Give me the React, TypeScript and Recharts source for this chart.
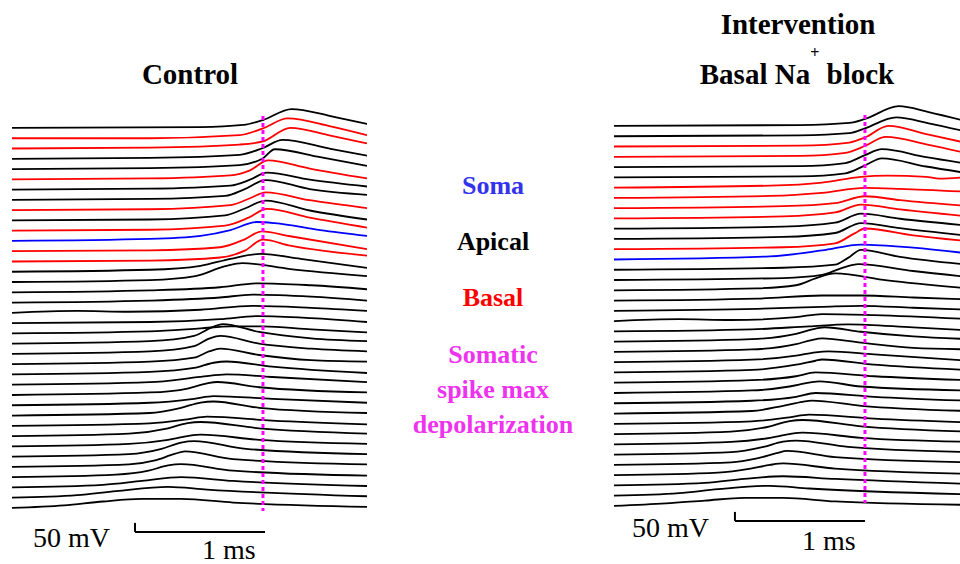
import { Line, LineChart, ReferenceLine, XAxis, YAxis } from "recharts";

// each trace: [time ms, deflection mV] samples, top trace first
const controlColors = [
  "k", "r", "r", "k", "k", "r", "k", "k", "r", "k", "r", "b", "r", "r",
  "k", "k", "k", "k", "k", "k", "k", "k", "k", "k", "k", "k", "k", "k",
  "k", "k", "k", "k", "k", "k", "k", "k", "k", "k",
];

const controlTraces: number[][][] = [
  [[0, 0], [1.45, 5], [1.78, 17], [1.93, 44], [2.15, 105], [2.45, 66], [2.73, 22]],
  [[0, 0], [1.06, 0], [1.75, 17], [1.93, 55], [2.12, 110], [2.45, 66], [2.73, 17]],
  [[0, 0], [1.06, 5], [1.75, 22], [1.93, 39], [2.14, 115], [2.45, 72], [2.73, 28]],
  [[0, 0], [1.06, 5], [1.75, 22], [1.93, 60], [2.08, 105], [2.45, 55], [2.73, 17]],
  [[0, 0], [1.06, 5], [1.75, 22], [1.93, 60], [2.02, 110], [2.37, 66], [2.73, 17]],
  [[0, 0], [1.06, 5], [1.68, 22], [1.83, 50], [1.97, 105], [2.29, 60], [2.73, 5]],
  [[0, 0], [1.06, 5], [1.68, 22], [1.83, 55], [1.96, 94], [2.29, 55], [2.73, 17]],
  [[0, 0], [1.06, 5], [1.64, 22], [1.79, 60], [1.95, 110], [2.29, 60], [2.73, 28]],
  [[0, 0], [1.06, 5], [1.68, 28], [1.83, 66], [1.95, 99], [2.29, 55], [2.73, 11]],
  [[0, 0], [1.06, 5], [1.64, 28], [1.79, 66], [1.95, 110], [2.29, 55], [2.73, 5]],
  [[0, 0], [1.06, 5], [1.64, 28], [1.82, 72], [1.96, 121], [2.29, 72], [2.73, 17]],
  [[0, 0], [1.06, 11], [1.45, 28], [1.68, 60], [1.88, 105], [2.02, 99], [2.37, 60], [2.73, 28]],
  [[0, 0], [1.06, 5], [1.6, 22], [1.79, 66], [1.92, 110], [2.14, 83], [2.73, 11]],
  [[0, 0], [1.06, 5], [1.6, 22], [1.79, 60], [1.93, 121], [2.14, 88], [2.73, 33]],
  [[0, 0], [1.06, 11], [1.45, 33], [1.68, 72], [1.91, 99], [2.22, 72], [2.73, 22]],
  [[0, 0], [1.06, 11], [1.41, 33], [1.64, 88], [1.77, 105], [2.14, 72], [2.73, 33]],
  [[0, 0], [1.06, 11], [1.6, 28], [1.9, 50], [2.3, 39], [2.73, 17]],
  [[0, 0], [1.06, 11], [1.6, 28], [1.85, 44], [2.3, 33], [2.73, 11]],
  [[0, 0], [0.5, 11], [0.9, 6], [1.45, 17], [1.85, 39], [2.3, 28], [2.73, 11]],
  [[0, 0], [1.06, 6], [1.6, 22], [1.9, 39], [2.3, 28], [2.73, 6]],
  [[0, 0], [1.06, 11], [1.45, 28], [1.68, 39], [1.93, 39], [2.3, 22], [2.73, 6]],
  [[0, 0], [1.06, 14], [1.4, 43], [1.55, 94], [1.62, 108], [1.9, 65], [2.3, 29], [2.73, 14]],
  [[0, 0], [1.06, 14], [1.4, 43], [1.52, 86], [1.6, 100], [1.9, 57], [2.3, 29], [2.73, 14]],
  [[0, 0], [1.06, 14], [1.4, 36], [1.52, 72], [1.6, 86], [1.9, 51], [2.3, 22], [2.73, 14]],
  [[0, 0], [1.06, 14], [1.4, 36], [1.55, 65], [1.65, 72], [2.0, 43], [2.73, 8]],
  [[0, 0], [1.06, 14], [1.45, 43], [1.65, 57], [2.0, 43], [2.73, 14]],
  [[0, 0], [1.06, 14], [1.35, 36], [1.5, 65], [1.58, 72], [1.9, 43], [2.73, 14]],
  [[0, 0], [1.06, 14], [1.4, 36], [1.55, 51], [2.0, 36], [2.73, 14]],
  [[0, 0], [1.06, 14], [1.3, 43], [1.45, 72], [1.55, 78], [1.9, 43], [2.73, 14]],
  [[0, 0], [1.06, 14], [1.35, 36], [1.5, 51], [2.0, 29], [2.73, 8]],
  [[0, 0], [0.9, 14], [1.2, 43], [1.35, 72], [1.45, 78], [1.9, 43], [2.73, 14]],
  [[0, 0], [0.9, 14], [1.2, 36], [1.35, 57], [1.45, 65], [1.9, 36], [2.73, 14]],
  [[0, 0], [0.9, 14], [1.15, 43], [1.3, 78], [1.4, 86], [1.8, 43], [2.73, 14]],
  [[0, 0], [0.9, 14], [1.1, 36], [1.25, 72], [1.33, 86], [1.7, 43], [2.73, 14]],
  [[0, 0], [0.8, 14], [1.05, 36], [1.2, 65], [1.3, 72], [1.7, 36], [2.73, 8]],
  [[0, 0], [0.7, 14], [1.0, 36], [1.3, 57], [1.7, 36], [2.73, 8]],
  [[0, 0], [0.5, 14], [0.8, 36], [1.2, 60], [1.5, 45], [2.73, 8]],
  [[0, 0], [0.4, 14], [0.7, 36], [1.0, 50], [1.3, 50], [1.7, 30], [2.73, 6]],
];

const blockColors = [
  "k", "k", "r", "r", "k", "k", "r", "r", "r", "r", "k", "k", "r", "b",
  "k", "k", "k", "k", "k", "k", "k", "k", "k", "k", "k", "k", "k", "k",
  "k", "k", "k", "k", "k", "k", "k", "k", "k", "k",
];

const blockTraces: number[][][] = [
  [[0, 0], [1.43, 5], [1.81, 17], [1.93, 39], [2.19, 110], [2.42, 77], [2.73, 22]],
  [[0, 0], [1.43, 5], [1.81, 17], [1.93, 44], [2.17, 105], [2.42, 72], [2.73, 22]],
  [[0, 0], [1.43, 5], [1.81, 22], [1.93, 50], [2.11, 115], [2.42, 66], [2.73, 17]],
  [[0, 0], [1.43, 5], [1.78, 22], [1.93, 60], [2.09, 110], [2.42, 66], [2.73, 17]],
  [[0, 0], [1.43, 5], [1.78, 22], [1.93, 66], [2.06, 99], [2.4, 55], [2.73, 17]],
  [[0, 0], [1.43, 5], [1.78, 22], [1.93, 66], [2.06, 105], [2.4, 60], [2.73, 22]],
  [[0, 0], [1.2, 11], [1.6, 28], [1.9, 60], [2.1, 66], [2.4, 60], [2.5, 50], [2.73, 60]],
  [[0, 0], [1.2, 11], [1.6, 28], [1.93, 55], [2.2, 50], [2.73, 33]],
  [[0, 0], [1.3, 11], [1.7, 28], [1.93, 66], [2.2, 44], [2.73, 11]],
  [[0, 0], [1.3, 11], [1.7, 33], [1.9, 77], [2.2, 50], [2.73, 11]],
  [[0, 0], [1.3, 11], [1.7, 33], [1.9, 83], [2.2, 55], [2.73, 17]],
  [[0, 0], [1.3, 11], [1.7, 33], [1.9, 88], [2.2, 60], [2.73, 17]],
  [[0, 0], [1.3, 11], [1.7, 33], [1.85, 88], [1.93, 115], [2.3, 77], [2.73, 44]],
  [[0, 0], [1.2, 17], [1.6, 50], [1.9, 83], [2.3, 66], [2.73, 33]],
  [[0, 0], [1.3, 11], [1.7, 28], [1.8, 66], [1.9, 110], [2.2, 72], [2.73, 28]],
  [[0, 0], [1.3, 11], [1.6, 28], [1.75, 66], [1.88, 88], [2.3, 50], [2.73, 17]],
  [[0, 0], [1.1, 11], [1.4, 28], [1.55, 66], [1.7, 94], [2.1, 55], [2.73, 11]],
  [[0, 0], [1.1, 11], [1.6, 28], [1.9, 28], [2.3, 17], [2.73, 6]],
  [[0, 0], [1.1, 11], [1.6, 22], [1.9, 28], [2.3, 17], [2.73, 6]],
  [[0, 0], [0.5, 11], [0.9, 6], [1.4, 22], [1.6, 39], [2.0, 33], [2.73, 11]],
  [[0, 0], [1.06, 11], [1.5, 28], [1.8, 39], [2.3, 22], [2.73, 6]],
  [[0, 0], [1.06, 14], [1.4, 43], [1.55, 72], [1.62, 80], [1.9, 55], [2.3, 29], [2.73, 14]],
  [[0, 0], [1.06, 14], [1.4, 43], [1.52, 66], [1.6, 75], [1.9, 51], [2.3, 22], [2.73, 14]],
  [[0, 0], [1.06, 14], [1.4, 36], [1.55, 55], [1.65, 60], [2.0, 43], [2.73, 8]],
  [[0, 0], [1.06, 14], [1.4, 43], [1.55, 65], [1.6, 72], [2.0, 43], [2.73, 14]],
  [[0, 0], [1.06, 14], [1.4, 36], [1.55, 57], [2.0, 36], [2.73, 14]],
  [[0, 0], [1.06, 14], [1.35, 36], [1.5, 57], [1.58, 65], [1.9, 36], [2.73, 14]],
  [[0, 0], [1.06, 14], [1.4, 36], [1.55, 57], [2.0, 36], [2.73, 14]],
  [[0, 0], [1.06, 14], [1.3, 43], [1.45, 65], [1.52, 72], [1.9, 43], [2.73, 14]],
  [[0, 0], [1.06, 14], [1.35, 36], [1.5, 51], [2.0, 29], [2.73, 8]],
  [[0, 0], [0.9, 14], [1.2, 43], [1.35, 72], [1.45, 78], [1.9, 43], [2.73, 14]],
  [[0, 0], [0.9, 14], [1.2, 36], [1.35, 57], [1.45, 65], [1.9, 36], [2.73, 14]],
  [[0, 0], [0.9, 14], [1.15, 43], [1.3, 72], [1.4, 78], [1.8, 43], [2.73, 14]],
  [[0, 0], [0.9, 14], [1.1, 36], [1.25, 65], [1.33, 78], [1.7, 43], [2.73, 14]],
  [[0, 0], [0.8, 14], [1.05, 36], [1.2, 57], [1.3, 65], [1.7, 36], [2.73, 8]],
  [[0, 0], [0.7, 14], [1.0, 36], [1.3, 51], [1.7, 36], [2.73, 8]],
  [[0, 0], [0.5, 14], [0.8, 36], [1.2, 55], [1.5, 40], [2.73, 8]],
  [[0, 0], [0.4, 14], [0.7, 30], [1.0, 45], [1.3, 45], [1.7, 25], [2.73, 6]],
];

const TRACE_GAP = 57; // mV between stacked traces
const SPIKE_MAX_MS = 1.93;
const SCALE_MS = 1;
const SCALE_MV = 50;

const COLORS: Record<string, string> = { k: "#000000", r: "#ff0000", b: "#0000ff" };
const MAGENTA = "#ff00ff";
const SERIF = "'Liberation Serif', 'Times New Roman', serif";

interface PanelProps {
  traces: number[][][];
  colors: string[];
  left: number;
  top: number;
  markTop: number;
  markBottom: number;
  barStart: number;
  barY: number;
}

function TracePanel({ traces, colors, left, top, markTop, markBottom, barStart, barY }: PanelProps) {
  return (
    <div style={{ position: "absolute", left, top }}>
      <LineChart width={355} height={469} margin={{ top: 0, right: 0, left: 0, bottom: 0 }}>
        <XAxis type="number" dataKey="t" domain={[0, 2.73]} hide allowDataOverflow />
        <YAxis type="number" domain={[-2420, 183]} hide allowDataOverflow />
        {traces.map((pts, i) => (
          <Line
            key={i}
            data={pts.map(([t, v]) => ({ t, v: v - i * TRACE_GAP }))}
            dataKey="v"
            type="monotone"
            stroke={COLORS[colors[i]]}
            strokeWidth={1.8}
            dot={false}
            isAnimationActive={false}
          />
        ))}
        <ReferenceLine
          segment={[{ x: SPIKE_MAX_MS, y: markTop }, { x: SPIKE_MAX_MS, y: markBottom }]}
          stroke={MAGENTA}
          strokeWidth={3}
          strokeDasharray="4 3"
        />
        <ReferenceLine
          segment={[{ x: barStart, y: barY + SCALE_MV }, { x: barStart, y: barY }]}
          stroke="#000"
          strokeWidth={2}
        />
        <ReferenceLine
          segment={[{ x: barStart, y: barY }, { x: barStart + SCALE_MS, y: barY }]}
          stroke="#000"
          strokeWidth={2}
        />
      </LineChart>
    </div>
  );
}

export default function App() {
  return (
    <div
      style={{
        position: "absolute",
        left: 0,
        top: 0,
        width: 960,
        height: 564,
        overflow: "hidden",
        background: "#fff",
      }}
    >
      <TracePanel
        traces={controlTraces}
        colors={controlColors}
        left={12}
        top={95}
        markTop={66}
        markBottom={-2126}
        barStart={0.946}
        barY={-2242}
      />
      <TracePanel
        traces={blockTraces}
        colors={blockColors}
        left={614}
        top={93}
        markTop={61}
        markBottom={-2092}
        barStart={0.93}
        barY={-2192}
      />
      <svg
        width={960}
        height={564}
        style={{ position: "absolute", left: 0, top: 0, pointerEvents: "none" }}
        fontFamily={SERIF}
      >
        <g fontWeight="bold" fontSize={29} textAnchor="middle">
          <text x={190} y={84}>Control</text>
          <text x={798} y={34}>Intervention</text>
          <text x={797} y={84}>
            Basal Na<tspan fontSize={16} dy={-26}>+</tspan>
            <tspan dy={26}> block</tspan>
          </text>
        </g>
        <g fontWeight="bold" fontSize={26} textAnchor="middle">
          <text x={493} y={194} fill="#3333ee">Soma</text>
          <text x={493} y={250} fill="#000">Apical</text>
          <text x={493} y={306} fill="#ff0000">Basal</text>
          <text x={493} y={363} fill="#ee33ee">Somatic</text>
          <text x={493} y={398} fill="#ee33ee">spike max</text>
          <text x={493} y={433} fill="#ee33ee">depolarization</text>
        </g>
        <g fontSize={28}>
          <text x={33} y={547}>50 mV</text>
          <text x={202} y={559}>1 ms</text>
          <text x={632} y={537}>50 mV</text>
          <text x={802} y={550}>1 ms</text>
        </g>
      </svg>
    </div>
  );
}
